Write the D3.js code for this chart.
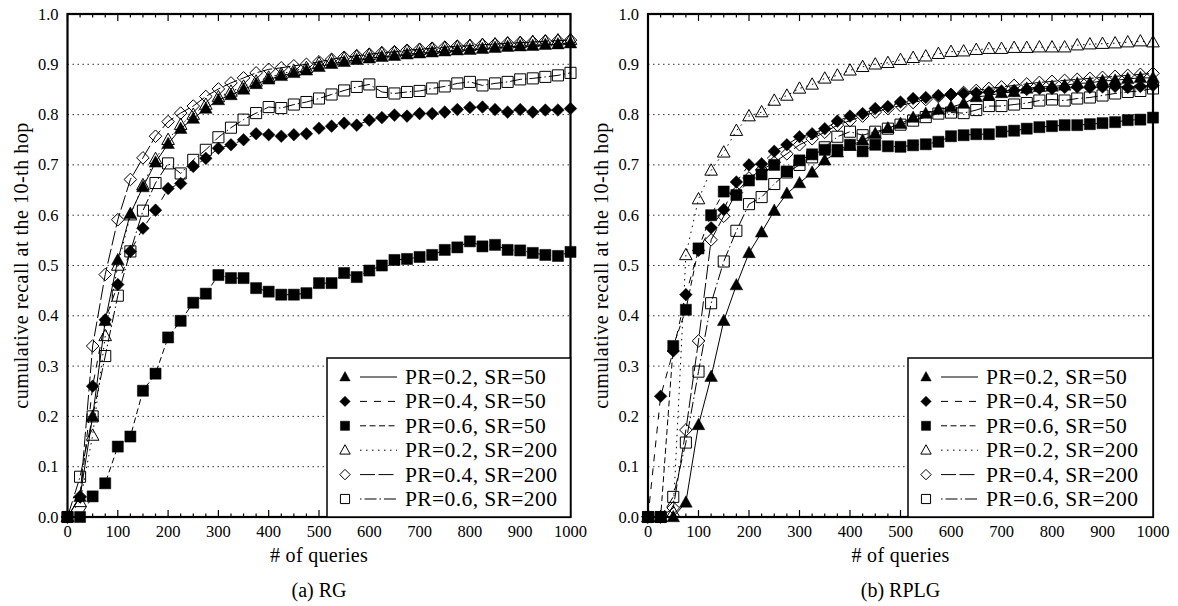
<!DOCTYPE html>
<html>
<head>
<meta charset="utf-8">
<script src="https://cdn.jsdelivr.net/npm/d3@7"></script>
<style>
  body { margin: 0; background: #fff; }
</style>
</head>
<body>
<svg id="chart"></svg>
<script>
// x values: number of queries
const queries = [0, 25, 50, 75, 100, 125, 150, 175, 200, 225, 250, 275, 300, 325, 350, 375, 400,
  425, 450, 475, 500, 525, 550, 575, 600, 625, 650, 675, 700, 725, 750, 775, 800, 825, 850, 875,
  900, 925, 950, 975, 1000];

// (a) RG
const rgPr02Sr50 = [0, 0.04, 0.20, 0.39, 0.511, 0.603, 0.656, 0.705, 0.742, 0.772, 0.792, 0.812, 0.829,
  0.839, 0.85, 0.861, 0.87, 0.877, 0.883, 0.888, 0.895, 0.901, 0.905, 0.909, 0.912, 0.915, 0.917, 0.92,
  0.922, 0.924, 0.926, 0.928, 0.929, 0.931, 0.933, 0.935, 0.936, 0.937, 0.939, 0.94, 0.942];
const rgPr04Sr50 = [0, 0.04, 0.26, 0.392, 0.462, 0.528, 0.574, 0.61, 0.653, 0.663, 0.697, 0.713, 0.733,
  0.74, 0.75, 0.762, 0.76, 0.757, 0.76, 0.762, 0.773, 0.777, 0.783, 0.779, 0.789, 0.794, 0.799, 0.797,
  0.802, 0.802, 0.805, 0.81, 0.814, 0.815, 0.81, 0.805, 0.81, 0.805, 0.809, 0.809, 0.812];
const rgPr06Sr50 = [0, 0, 0.041, 0.067, 0.14, 0.16, 0.251, 0.285, 0.357, 0.39, 0.426, 0.444, 0.481,
  0.475, 0.475, 0.455, 0.448, 0.442, 0.442, 0.445, 0.465, 0.465, 0.485, 0.477, 0.49, 0.5, 0.511, 0.513,
  0.517, 0.521, 0.531, 0.536, 0.548, 0.538, 0.541, 0.531, 0.53, 0.525, 0.521, 0.519, 0.527];
const rgPr02Sr200 = [0, 0.03, 0.162, 0.36, 0.50, 0.60, 0.66, 0.712, 0.75, 0.78, 0.80, 0.82, 0.835,
  0.846, 0.856, 0.866, 0.874, 0.881, 0.887, 0.893, 0.902, 0.908, 0.912, 0.916, 0.919, 0.922, 0.924,
  0.927, 0.929, 0.931, 0.933, 0.935, 0.937, 0.939, 0.94, 0.942, 0.943, 0.945, 0.946, 0.948, 0.949];
const rgPr04Sr200 = [0, 0.04, 0.34, 0.482, 0.591, 0.671, 0.714, 0.757, 0.786, 0.803, 0.817, 0.836, 0.851,
  0.863, 0.873, 0.883, 0.89, 0.893, 0.897, 0.90, 0.905, 0.91, 0.914, 0.917, 0.92, 0.923, 0.925, 0.928,
  0.93, 0.932, 0.934, 0.936, 0.937, 0.939, 0.94, 0.942, 0.943, 0.944, 0.946, 0.947, 0.948];
const rgPr06Sr200 = [0, 0.08, 0.20, 0.32, 0.44, 0.528, 0.609, 0.664, 0.703, 0.683, 0.71, 0.73, 0.755,
  0.774, 0.79, 0.803, 0.815, 0.813, 0.82, 0.825, 0.832, 0.84, 0.848, 0.855, 0.86, 0.845, 0.842, 0.845,
  0.847, 0.852, 0.856, 0.862, 0.865, 0.858, 0.862, 0.865, 0.87, 0.872, 0.875, 0.878, 0.883];

// (b) RPLG
const rplgPr02Sr50 = [0, 0, 0, 0.029, 0.183, 0.279, 0.39, 0.461, 0.525, 0.566, 0.609, 0.643, 0.664,
  0.685, 0.709, 0.725, 0.738, 0.749, 0.762, 0.773, 0.782, 0.794, 0.802, 0.81, 0.815, 0.822, 0.835, 0.838,
  0.843, 0.845, 0.852, 0.855, 0.856, 0.858, 0.862, 0.863, 0.867, 0.868, 0.871, 0.873, 0.873];
const rplgPr04Sr50 = [0, 0.24, 0.33, 0.442, 0.53, 0.575, 0.611, 0.666, 0.70, 0.702, 0.727, 0.74, 0.756,
  0.762, 0.772, 0.787, 0.797, 0.802, 0.812, 0.816, 0.825, 0.832, 0.834, 0.838, 0.84, 0.842, 0.843, 0.845,
  0.847, 0.848, 0.85, 0.852, 0.852, 0.854, 0.855, 0.854, 0.855, 0.856, 0.854, 0.856, 0.858];
const rplgPr06Sr50 = [0, 0, 0.34, 0.412, 0.534, 0.60, 0.647, 0.64, 0.669, 0.681, 0.70, 0.687, 0.709,
  0.721, 0.73, 0.73, 0.74, 0.727, 0.74, 0.737, 0.736, 0.739, 0.741, 0.746, 0.757, 0.759, 0.761, 0.761,
  0.766, 0.768, 0.772, 0.775, 0.777, 0.779, 0.779, 0.781, 0.783, 0.785, 0.789, 0.79, 0.794];
const rplgPr02Sr200 = [0, 0, 0.01, 0.521, 0.632, 0.689, 0.725, 0.768, 0.797, 0.805, 0.828, 0.838, 0.852,
  0.86, 0.872, 0.878, 0.888, 0.895, 0.9, 0.903, 0.909, 0.913, 0.916, 0.921, 0.925, 0.926, 0.929, 0.931,
  0.931, 0.933, 0.933, 0.934, 0.934, 0.934, 0.938, 0.94, 0.941, 0.942, 0.944, 0.946, 0.944];
const rplgPr04Sr200 = [0, 0, 0.018, 0.173, 0.35, 0.551, 0.598, 0.645, 0.674, 0.69, 0.705, 0.722, 0.74,
  0.752, 0.765, 0.779, 0.788, 0.797, 0.805, 0.812, 0.818, 0.824, 0.83, 0.836, 0.84, 0.844, 0.848, 0.852,
  0.855, 0.858, 0.861, 0.864, 0.866, 0.868, 0.87, 0.872, 0.874, 0.876, 0.878, 0.88, 0.882];
const rplgPr06Sr200 = [0, 0, 0.04, 0.148, 0.289, 0.425, 0.508, 0.569, 0.622, 0.636, 0.662, 0.685, 0.70,
  0.715, 0.735, 0.756, 0.766, 0.759, 0.766, 0.772, 0.78, 0.788, 0.795, 0.802, 0.804, 0.803, 0.809, 0.817,
  0.817, 0.82, 0.823, 0.828, 0.83, 0.828, 0.832, 0.834, 0.838, 0.842, 0.845, 0.847, 0.852];

const seriesNames = ["PR=0.2, SR=50", "PR=0.4, SR=50", "PR=0.6, SR=50",
  "PR=0.2, SR=200", "PR=0.4, SR=200", "PR=0.6, SR=200"];
const xTicks = [0, 100, 200, 300, 400, 500, 600, 700, 800, 900, 1000];
const yTicks = [0, 0.1, 0.2, 0.3, 0.4, 0.5, 0.6, 0.7, 0.8, 0.9, 1.0];

// marker shape + line style per series
const styles = [
  { shape: "tri", filled: true, dash: null },
  { shape: "dia", filled: true, dash: "7,7" },
  { shape: "sq", filled: true, dash: "6,3.5" },
  { shape: "tri", filled: false, dash: "1.5,4.5" },
  { shape: "dia", filled: false, dash: "15,3.5" },
  { shape: "sq", filled: false, dash: "1.5,3,12,3" }
];

const FONT = '"Liberation Serif", "Times New Roman", serif';
const W = 1178, H = 606;
const svg = d3.select("#chart").attr("width", W).attr("height", H)
  .style("font-family", FONT);
svg.append("rect").attr("width", W).attr("height", H).attr("fill", "#fff");

function shapePath(shape, r) {
  if (shape === "tri") return `M0,${-r * 1.05}L${r},${r * 0.75}L${-r},${r * 0.75}Z`;
  if (shape === "dia") return `M0,${-r}L${r},0L0,${r}L${-r},0Z`;
  const s = r * 0.88;
  return `M${-s},${-s}H${s}V${s}H${-s}Z`;
}

function label(sel) {
  return sel.style("font-family", FONT).attr("fill", "#000");
}

function drawPanel(cfg) {
  const x = d3.scaleLinear().domain([0, 1000]).range([cfg.left, cfg.right]);
  const y = d3.scaleLinear().domain([0, 1]).range([517, 14]);
  const g = svg.append("g");

  // dotted grid
  g.selectAll(".grid").data(yTicks.slice(1, -1)).enter().append("line")
    .attr("x1", cfg.left).attr("x2", cfg.right)
    .attr("y1", d => y(d)).attr("y2", d => y(d))
    .attr("stroke", "#333").attr("stroke-width", 1).attr("stroke-dasharray", "1.5,3.5");

  // ticks on bottom and top (major every 100, minor every 25)
  [[517, 1], [14, -1]].forEach(([yy, dir]) => {
    g.selectAll(null).data(queries).enter().append("line")
      .attr("x1", d => x(d)).attr("x2", d => x(d))
      .attr("y1", yy).attr("y2", d => yy - dir * (d % 100 === 0 ? 7 : 3.5))
      .attr("stroke", "#000").attr("stroke-width", 1.2);
  });

  // series
  const series = cfg.data;
  const line = d3.line().x((d, i) => x(queries[i])).y(d => y(d));
  series.forEach((vals, si) => {
    const st = styles[si];
    g.append("path").datum(vals).attr("d", line)
      .attr("fill", "none").attr("stroke", "#000").attr("stroke-width", 1)
      .attr("stroke-dasharray", st.dash);
  });
  series.forEach((vals, si) => {
    const st = styles[si];
    g.selectAll(null).data(vals).enter().append("path")
      .attr("transform", (d, i) => `translate(${x(queries[i])},${y(d)})`)
      .attr("d", shapePath(st.shape, 6.3))
      .attr("fill", st.filled ? "#000" : "none")
      .attr("stroke", "#000").attr("stroke-width", st.filled ? 0.5 : 1);
  });

  // frame
  g.append("rect").attr("x", cfg.left).attr("y", 14)
    .attr("width", cfg.right - cfg.left).attr("height", 503)
    .attr("fill", "none").attr("stroke", "#000").attr("stroke-width", 2.2);

  // tick labels
  label(g.selectAll(null).data(xTicks).enter().append("text"))
    .attr("x", d => x(d)).attr("y", 537).attr("text-anchor", "middle")
    .attr("font-size", 16.5).text(d => d);
  label(g.selectAll(null).data(yTicks).enter().append("text"))
    .attr("x", cfg.left - 9).attr("y", d => y(d) + 5.5).attr("text-anchor", "end")
    .attr("font-size", 16.5).text(d => d.toFixed(1));

  // axis titles
  const cx = (cfg.left + cfg.right) / 2;
  label(g.append("text")).attr("x", cx).attr("y", 562).attr("text-anchor", "middle")
    .attr("font-size", 20).attr("letter-spacing", 0.3).text("# of queries");
  label(g.append("text")).attr("transform", `translate(${cfg.left - 40},${265.5}) rotate(-90)`)
    .attr("text-anchor", "middle").attr("font-size", 20).attr("letter-spacing", 0.5)
    .text("cumulative recall at the 10-th hop");
  label(g.append("text")).attr("x", cx).attr("y", 597).attr("text-anchor", "middle")
    .attr("font-size", 20).text(cfg.caption);

  // legend
  const lg = g.append("g");
  lg.append("rect").attr("x", cfg.legendX).attr("y", 358)
    .attr("width", cfg.right - cfg.legendX).attr("height", 517 - 358)
    .attr("fill", "#fff").attr("stroke", "#000").attr("stroke-width", 1.5);
  seriesNames.forEach((name, si) => {
    const st = styles[si];
    const ry = 377 + si * 24.4;
    lg.append("path").attr("transform", `translate(${cfg.legendX + 18},${ry})`)
      .attr("d", shapePath(st.shape, 5.2))
      .attr("fill", st.filled ? "#000" : "none").attr("stroke", "#000")
      .attr("stroke-width", st.filled ? 0.5 : 1);
    lg.append("line").attr("x1", cfg.legendX + 33).attr("x2", cfg.legendX + 70)
      .attr("y1", ry).attr("y2", ry).attr("stroke", "#000").attr("stroke-width", 1)
      .attr("stroke-dasharray", st.dash);
    label(lg.append("text")).attr("x", cfg.legendX + 78).attr("y", ry + 7)
      .attr("font-size", 21.5).attr("letter-spacing", 0.4).text(name);
  });
}

drawPanel({
  left: 67.5, right: 570.5, legendX: 327, caption: "(a) RG",
  data: [rgPr02Sr50, rgPr04Sr50, rgPr06Sr50, rgPr02Sr200, rgPr04Sr200, rgPr06Sr200]
});
drawPanel({
  left: 648, right: 1153, legendX: 908, caption: "(b) RPLG",
  data: [rplgPr02Sr50, rplgPr04Sr50, rplgPr06Sr50, rplgPr02Sr200, rplgPr04Sr200, rplgPr06Sr200]
});
</script>
</body>
</html>
